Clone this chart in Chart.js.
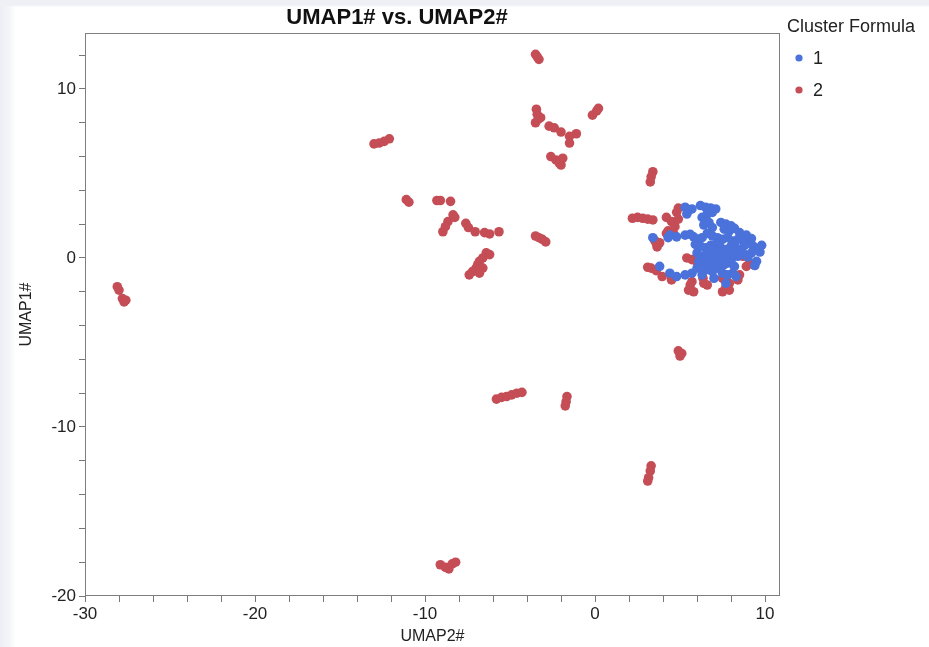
<!DOCTYPE html>
<html>
<head>
<meta charset="utf-8">
<script src="https://cdn.jsdelivr.net/npm/chart.js@4.4.1/dist/chart.umd.min.js"></script>
<style>
  html, body { margin: 0; padding: 0; }
  body {
    width: 929px; height: 647px; overflow: hidden;
    background:
      linear-gradient(to bottom, #eef0f5 0px, #eef0f5 5px, rgba(255,255,255,0) 7px),
      linear-gradient(to right, #eceef4 0px, #f3f4f8 8px, #ffffff 16px);
  }
  #wrap { position: absolute; left: 0; top: 0; width: 929px; height: 647px; }
</style>
</head>
<body>
<div id="wrap"><canvas id="c" width="929" height="647"></canvas></div>
<script>
// ---------------- data ----------------
const chartTitle = 'UMAP1# vs. UMAP2#';
const xAxisTitle = 'UMAP2#';
const yAxisTitle = 'UMAP1#';
const legendTitle = 'Cluster Formula';
const seriesNames = ['1', '2'];
const seriesColors = ['#4a72da', '#c54d56'];

const xTickLabels = [-30, -20, -10, 0, 10];
const yTickLabels = [-20, -10, 0, 10];

// cluster "1" (blue): [UMAP2#, UMAP1#]
const cluster1 = [
  [5.3,3.0],[5.5,2.8],[5.7,2.9],[5.4,2.6],
  [6.2,3.1],[6.5,3.0],[6.8,2.95],[7.1,2.9],[6.6,2.6],[6.9,2.7],
  [6.3,2.4],[6.5,2.2],[6.4,1.95],[6.7,2.1],[6.9,1.8],
  [7.4,2.1],[7.7,2.0],[8.0,1.9],[7.6,1.7],[7.9,1.6],[8.2,1.75],
  [5.3,1.35],[5.6,1.4],[5.8,1.25],
  [3.4,1.2],[4.4,1.35],[4.8,1.25],[4.3,1.2],
  [6.0,1.1],[6.3,1.2],[6.6,1.45],[6.9,1.3],[7.2,1.2],[7.5,1.1],[7.8,1.2],[8.1,1.0],[8.4,1.1],[8.7,1.05],[9.0,0.9],
  [8.5,1.5],[8.9,1.35],[9.2,1.15],[8.8,0.75],
  [5.9,0.8],[6.2,0.7],[6.5,0.6],[6.8,0.75],[7.1,0.8],[7.4,0.6],[7.7,0.5],[8.0,0.7],[8.3,0.6],[8.6,0.5],[9.3,0.7],[9.5,0.5],[9.2,0.3],
  [9.8,0.75],[9.7,0.35],[9.0,0.05],
  [6.0,0.3],[6.3,0.1],[6.6,0.2],[6.9,0.3],[7.2,0.1],[7.5,0.2],[7.8,0.0],[8.1,0.2],[8.4,0.1],[8.8,0.2],
  [7.3,0.4],[8.0,-0.15],[6.6,-0.4],
  [6.1,-0.2],[6.4,-0.3],[6.7,-0.1],[7.0,-0.3],[7.3,-0.2],[7.6,-0.4],[7.9,-0.3],[8.2,-0.5],[9.5,-0.2],[9.4,-0.45],
  [5.7,-0.9],[6.0,-0.6],[6.5,-0.7],[6.9,-0.8],[7.2,-0.6],[7.5,-0.9],[7.8,-1.0],[8.1,-0.9],[8.3,-1.1],
  [4.8,-1.1],[5.3,-1.0],[3.8,-0.5],[4.4,-0.9],[7.0,-1.2],[7.7,-1.5],[6.3,-1.0]
];

// cluster "2" (red): [UMAP2#, UMAP1#]
const cluster2 = [
  // far left
  [-28.1,-1.7],[-28.0,-1.9],[-27.8,-2.4],[-27.7,-2.6],[-27.6,-2.5],
  // upper left line
  [-13.0,6.75],[-12.7,6.8],[-12.4,6.9],[-12.1,7.05],
  [-11.1,3.45],[-10.95,3.3],
  [-9.3,3.4],[-9.1,3.4],[-8.5,3.35],
  [-8.25,2.4],[-8.35,2.55],[-8.65,2.15],[-8.8,1.85],[-8.95,1.55],
  [-7.6,2.05],[-7.45,1.8],[-7.05,1.55],[-6.5,1.5],[-6.2,1.42],[-5.65,1.55],
  [-3.5,1.3],[-3.3,1.2],[-3.1,1.1],[-2.9,0.95],
  [-6.2,0.2],[-6.4,0.3],[-6.6,0.0],[-6.8,-0.2],[-6.9,-0.4],[-7.0,-0.6],[-7.2,-0.8],[-7.4,-1.0],[-6.6,-0.6],[-6.8,-0.9],
  // top
  [-3.5,12.05],[-3.4,11.9],[-3.3,11.75],
  [-3.45,8.8],[-3.4,8.5],[-3.35,8.2],[-3.5,8.0],[-3.2,8.3],
  [-2.7,7.8],[-2.4,7.7],[-2.0,7.45],[-1.5,7.2],[-1.5,6.8],[-1.1,7.35],
  [0.2,8.85],[0.1,8.7],[-0.15,8.45],
  [-2.6,6.0],[-2.3,5.8],[-2.1,5.6],[-1.9,5.9],[-2.0,5.5],
  // lower
  [-5.8,-8.35],[-5.5,-8.25],[-5.2,-8.2],[-4.9,-8.1],[-4.6,-8.0],[-4.3,-7.95],
  [-1.65,-8.2],[-1.7,-8.5],[-1.75,-8.75],
  [4.9,-5.5],[5.1,-5.65],[5.0,-5.8],
  [3.3,-12.3],[3.25,-12.6],[3.15,-13.0],[3.1,-13.2],
  [-9.1,-18.15],[-8.8,-18.3],[-8.6,-18.4],[-8.4,-18.1],[-8.2,-18.0],
  // right cluster
  [3.4,5.1],[3.3,4.8],[3.25,4.5],
  [2.2,2.35],[2.5,2.4],[2.8,2.35],[3.1,2.3],[3.4,2.25],
  [4.9,2.95],[4.8,2.7],[4.5,2.15],[4.2,2.4],[4.3,1.6],[4.7,1.85],[4.9,2.3],
  [4.2,1.45],[4.6,1.5],
  [3.5,1.05],[3.65,0.65],[3.6,0.85],[3.8,0.9],
  [3.1,-0.55],[3.3,-0.6],[3.6,-0.75],[3.95,-1.1],[4.5,-1.2],[4.5,-1.3],
  [5.4,0.0],[5.7,-0.1],[6.0,-0.25],
  [5.6,-1.6],[5.5,-1.9],[5.7,-1.4],[5.8,-2.0],
  [6.35,-1.2],[6.4,-1.5],[6.6,-1.6],[6.75,-0.7],[6.9,-0.5],
  [7.5,-1.2],[7.9,-1.5],[7.5,-2.0],[7.7,-1.7],[7.9,-1.9],
  [8.7,0.1],[9.1,-0.3],[8.5,-1.0],[8.4,-1.3],[8.6,0.3],[8.9,-0.5],[9.3,-0.4],[8.5,0.3]
];

// ---------------- plugins ----------------
const FONT = '"Liberation Sans", Arial, Helvetica, sans-serif';

const framePlugin = {
  id: 'frame',
  afterDatasetsDraw(chart) {
    const a = chart.chartArea, ctx = chart.ctx;
    ctx.save();
    ctx.strokeStyle = '#7f7f7f';
    ctx.lineWidth = 1;
    ctx.strokeRect(Math.round(a.left) + 0.5, Math.round(a.top) + 0.5,
                   Math.round(a.right - a.left) - 1, Math.round(a.bottom - a.top) - 1);
    ctx.restore();
  }
};

const titleLegendPlugin = {
  id: 'titleLegend',
  afterDraw(chart) {
    const ctx = chart.ctx;
    ctx.save();
    ctx.fillStyle = '#111';
    ctx.font = 'bold 22px ' + FONT;
    ctx.textAlign = 'center';
    ctx.textBaseline = 'middle';
    ctx.fillText(chartTitle, 397, 18);

    ctx.textAlign = 'left';
    ctx.font = '18px ' + FONT;
    ctx.fillStyle = '#222';
    ctx.fillText(legendTitle, 787, 27);
    seriesNames.forEach((name, i) => {
      const y = 58 + i * 32;
      ctx.beginPath();
      ctx.fillStyle = seriesColors[i];
      ctx.arc(799, y, 3.6, 0, Math.PI * 2);
      ctx.fill();
      ctx.fillStyle = '#222';
      ctx.fillText(name, 813, y + 1);
    });
    ctx.restore();
  }
};

// ---------------- chart ----------------
const toPts = arr => arr.map(([x, y]) => ({ x, y }));

new Chart(document.getElementById('c'), {
  type: 'scatter',
  data: {
    datasets: [
      { label: seriesNames[1], data: toPts(cluster2), backgroundColor: seriesColors[1],
        pointRadius: 4.8, pointHoverRadius: 4.8, borderWidth: 0, order: 2 },
      { label: seriesNames[0], data: toPts(cluster1), backgroundColor: seriesColors[0],
        pointRadius: 4.8, pointHoverRadius: 4.8, borderWidth: 0, order: 1 }
    ]
  },
  options: {
    responsive: false,
    animation: false,
    layout: { padding: { left: 0, right: 149, top: 33, bottom: 0 } },
    plugins: {
      legend: { display: false },
      title: { display: false },
      tooltip: { enabled: false }
    },
    scales: {
      x: {
        type: 'linear',
        min: -30, max: 10.88,
        afterFit(s) { s.height = 51; },
        border: { display: false },
        grid: { drawOnChartArea: false, drawTicks: true, tickLength: 6, color: '#777' },
        ticks: {
          stepSize: 2, autoSkip: false, includeBounds: false, maxRotation: 0,
          padding: 2, color: '#222', font: { family: FONT, size: 17 },
          callback: v => xTickLabels.includes(v) ? String(v) : ''
        },
        title: { display: true, text: xAxisTitle, color: '#222',
                 font: { family: FONT, size: 16 }, padding: { top: 0, bottom: 1 } }
      },
      y: {
        type: 'linear',
        min: -20, max: 13.31,
        afterFit(s) { s.width = 85; },
        border: { display: false },
        grid: { drawOnChartArea: false, drawTicks: true, tickLength: 6, color: '#777' },
        ticks: {
          stepSize: 2, autoSkip: false, includeBounds: false,
          padding: 3, color: '#222', font: { family: FONT, size: 17 },
          callback: v => yTickLabels.includes(v) ? String(v) : ''
        },
        title: { display: true, text: yAxisTitle, color: '#222',
                 font: { family: FONT, size: 16 }, padding: { top: 17, bottom: 0 } }
      }
    }
  },
  plugins: [framePlugin, titleLegendPlugin]
});
</script>
</body>
</html>
